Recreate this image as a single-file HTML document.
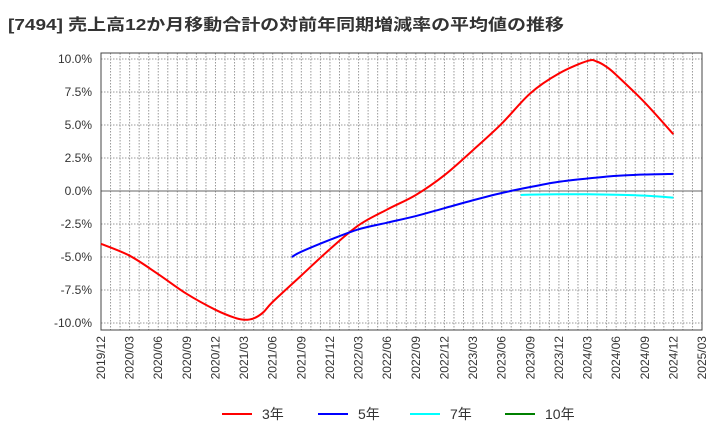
<!DOCTYPE html>
<html><head><meta charset="utf-8"><style>
body{margin:0;background:#fff;font-family:"Liberation Sans","Noto Sans CJK JP",sans-serif}
</style></head><body>
<svg id="c" width="720" height="440" xmlns="http://www.w3.org/2000/svg" style="display:block">
<text x="8" y="30" font-size="16" font-weight="bold" fill="#333" textLength="556" lengthAdjust="spacingAndGlyphs" font-family="Liberation Sans, Noto Sans CJK JP, sans-serif">[7494]  売上高12か月移動合計の対前年同期増減率の平均値の推移</text>
<g id="grid"></g><g id="axes"></g><g id="series"></g><g id="legend"></g>
</svg>
<script>
const xLabels=["2019/12","2020/03","2020/06","2020/09","2020/12","2021/03","2021/06","2021/09","2021/12","2022/03","2022/06","2022/09","2022/12","2023/03","2023/06","2023/09","2023/12","2024/03","2024/06","2024/09","2024/12","2025/03"];
const yTicks=[10,7.5,5,2.5,0,-2.5,-5,-7.5,-10];
const yTickLabels=["10.0%","7.5%","5.0%","2.5%","0.0%","-2.5%","-5.0%","-7.5%","-10.0%"];
// month index from 2019/12
const s3Idx=[0,3,6,9,12,14,15,16,17,18,21,24,27,30,33,36,39,42,45,48,51,52,53,54,57,60];
const s3Val=[-4.0,-4.9,-6.3,-7.8,-9.0,-9.6,-9.75,-9.65,-9.2,-8.4,-6.4,-4.4,-2.6,-1.4,-0.3,1.2,3.1,5.1,7.4,8.9,9.85,9.8,9.4,8.8,6.7,4.3];
const s5Idx=[20,21,24,27,30,33,36,39,42,45,48,51,54,57,60];
const s5Val=[-5.0,-4.6,-3.7,-2.9,-2.4,-1.9,-1.3,-0.7,-0.15,0.3,0.7,0.95,1.15,1.25,1.3];
const s7Idx=[44,45,48,51,54,57,60];
const s7Val=[-0.3,-0.27,-0.25,-0.25,-0.28,-0.35,-0.5];
const s10Idx=[];const s10Val=[];
const X0=101,X1=702,Y0=53,Y1=330,NM=63;
const xs=m=>X0+(X1-X0)*m/NM;
const ys=v=>191-v*13.2;
const NS="http://www.w3.org/2000/svg";
function mk(t,a,p){const e=document.createElementNS(NS,t);for(const k in a)e.setAttribute(k,a[k]);p.appendChild(e);return e;}
const grid=document.getElementById('grid'),axes=document.getElementById('axes'),ser=document.getElementById('series'),leg=document.getElementById('legend');
for(let m=1;m<NM;m++){const l=mk('line',{x1:xs(m),x2:xs(m),y1:Y0,y2:Y1,stroke:'#999','stroke-dasharray':'1.5,1.5','stroke-width':1},grid);

}
yTicks.forEach((v,i)=>{const l=mk('line',{x1:X0,x2:X1,y1:ys(v),y2:ys(v),stroke:v===0?'#666':'#999','stroke-dasharray':v===0?'':'1.5,1.5','stroke-width':1},grid);


const t=mk('text',{x:X0-9,y:ys(v)+4,'text-anchor':'end','font-size':12,fill:'#333'},axes);t.textContent=yTickLabels[i];

});
xLabels.forEach((s,i)=>{const x=xs(i*3);const t=mk('text',{x:x+4,y:Y1+6,'text-anchor':'end','font-size':12,fill:'#333',transform:`rotate(-90 ${x+4} ${Y1+6})`},axes);t.textContent=s;

});
const fr=mk('rect',{x:X0,y:Y0,width:X1-X0,height:Y1-Y0,fill:'none',stroke:'#444','stroke-width':1},axes);


function path(idx,val){const p=idx.map((m,i)=>[xs(m),ys(val[i])]);if(p.length<2)return '';let d=`M${p[0][0]},${p[0][1]}`;
for(let i=0;i<p.length-1;i++){const a=p[Math.max(0,i-1)],b=p[i],c=p[i+1],e=p[Math.min(p.length-1,i+2)];
d+=` C${b[0]+(c[0]-a[0])/6},${b[1]+(c[1]-a[1])/6} ${c[0]-(e[0]-b[0])/6},${c[1]-(e[1]-b[1])/6} ${c[0]},${c[1]}`;}return d;}
const defs=[[s3Idx,s3Val,'#ff0000','3年','series-3yr'],[s5Idx,s5Val,'#0000ff','5年','series-5yr'],[s7Idx,s7Val,'#00ffff','7年','series-7yr'],[s10Idx,s10Val,'#008000','10年','series-10yr']];
const lx=[222,318,410,505];
defs.forEach((d,i)=>{const pd=path(d[0],d[1]);if(pd){const p=mk('path',{d:pd,fill:'none',stroke:d[2],'stroke-width':2},ser);

}
const g=mk('g',{},leg);


mk('line',{x1:lx[i],x2:lx[i]+30,y1:414,y2:414,stroke:d[2],'stroke-width':2},g);
const t=mk('text',{x:lx[i]+40,y:419,'font-size':14,fill:'#333'},g);t.textContent=d[3];});
</script>
</body></html>
